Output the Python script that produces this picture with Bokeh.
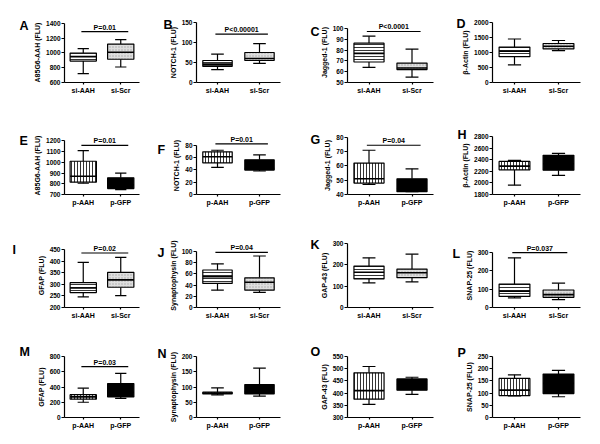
import numpy as np
from bokeh.plotting import figure
from bokeh.layouts import gridplot
from bokeh.models import FactorRange, Range1d, FixedTicker, Label
from bokeh.core.properties import value
from bokeh.embed import file_html
from bokeh.resources import INLINE

# ---------------- data ----------------
si_groups = ["si-AAH", "si-Scr"]
p_groups = ["p-AAH", "p-GFP"]

panel_letters = list("ABCDEFGHIJKLMNOP")
y_titles = ["A85G6-AAH (FLU)", "NOTCH-1 (FLU)", "Jagged-1 (FLU)", "\u03b2-Actin (FLU)",
            "A85G6-AAH (FLU)", "NOTCH-1 (FLU)", "Jagged-1 (FLU)", "\u03b2-Actin (FLU)",
            "GFAP (FLU)", "Synaptophysin (FLU)", "GAP-43 (FLU)", "SNAP-25 (FLU)",
            "GFAP (FLU)", "Synaptophysin (FLU)", "GAP-43 (FLU)", "SNAP-25 (FLU)"]

# box stats per group: [whisker low, Q1, median, Q3, whisker high]
A_box = [[720, 890, 950, 1000, 1060], [810, 915, 1010, 1120, 1180]]
B_box = [[32, 40, 46, 55, 71], [48, 55, 60, 75, 97]]
C_box = [[64, 69, 77, 86.5, 93], [55, 62, 63.5, 68, 81]]
D_box = [[590, 860, 1040, 1180, 1450], [1060, 1120, 1210, 1300, 1400]]
E_box = [[805, 815, 870, 1010, 1110], [745, 755, 790, 856, 900]]
F_box = [[44, 51, 61, 69, 71.5], [38, 39.5, 42, 56, 64]]
G_box = [[47, 48, 51, 62, 71], [42, 42, 44, 51, 58]]
H_box = [[1960, 2225, 2290, 2370, 2390], [2130, 2220, 2330, 2475, 2510]]
I_box = [[246, 265, 285, 308, 396], [252, 288, 320, 353, 418]]
J_box = [[31, 43, 55, 67, 78], [27, 31, 45, 53, 92]]
K_box = [[115, 134, 165, 194, 233], [120, 140, 163, 180, 250]]
L_box = [[52, 60, 88, 127, 270], [43, 55, 70, 95, 132]]
M_box = [[200, 240, 270, 300, 385], [250, 270, 330, 445, 580]]
N_box = [[74, 77, 80, 83, 97], [70, 77, 85, 108, 162]]
O_box = [[354, 375, 410, 483, 509], [395, 412, 435, 458, 465]]
P_box = [[89, 90, 112, 160, 175], [85, 98, 140, 178, 193]]

A_ticks = [600, 800, 1000, 1200, 1400]
B_ticks = [0, 50, 100, 150]
C_ticks = [50, 60, 70, 80, 90, 100]
D_ticks = [0, 500, 1000, 1500, 2000]
E_ticks = [700, 800, 900, 1000, 1100, 1200]
F_ticks = [0, 20, 40, 60, 80]
G_ticks = [40, 50, 60, 70, 80]
H_ticks = [1800, 2000, 2200, 2400, 2600, 2800]
I_ticks = [200, 250, 300, 350, 400, 450]
J_ticks = [0, 20, 40, 60, 80, 100]
K_ticks = [0, 100, 200, 300]
L_ticks = [0, 100, 200, 300]
M_ticks = [0, 200, 400, 600, 800]
N_ticks = [0, 50, 100, 150, 200]
O_ticks = [300, 350, 400, 450, 500, 550]
P_ticks = [0, 50, 100, 150, 200, 250]

p_text = ["P=0.01", "P<0.00001", "P<0.0001", None,
          "P=0.01", "P=0.01", "P=0.04", None,
          "P=0.02", "P=0.04", None, "P=0.037",
          "P=0.03", None, None, None]
p_line_y = [1290, 121, 97.3, None,
            1159, 81.7, 74.5, None,
            437, 98.4, None, 298,
            666, None, None, None]

boxes = [A_box, B_box, C_box, D_box, E_box, F_box, G_box, H_box,
         I_box, J_box, K_box, L_box, M_box, N_box, O_box, P_box]
ticks_all = [A_ticks, B_ticks, C_ticks, D_ticks, E_ticks, F_ticks, G_ticks, H_ticks,
             I_ticks, J_ticks, K_ticks, L_ticks, M_ticks, N_ticks, O_ticks, P_ticks]
groups_all = [si_groups] * 4 + [p_groups] * 4 + [si_groups] * 4 + [p_groups] * 4

# ---------------- layout (pixels) ----------------
col_x0 = [0, 146, 298, 448]
col_w = [146, 152, 150, 148]
row_y0 = [0, 111, 222, 333]
row_h = [111, 111, 111, 107]
frame_left = [57, 190, 347, 488, 57, 196, 347, 487, 64, 196, 347, 492, 57, 196, 347, 487]
frame_right = [139, 280, 433, 582, 139, 282, 433, 580, 139, 282, 439, 582, 139, 282, 433, 581]
tick_top_px = [21, 21, 21, 22, 135, 132, 132, 136, 245, 244, 243, 244, 356, 354, 356, 355]
axis_bot_px = [83, 82, 83, 82, 196, 196, 194, 195, 307, 307, 307, 307, 417, 418, 418, 418]
letter_x = [12, 157, 310, 452]
letter_y = [23.5, 134, 244, 351]
TEXT_ROOM = 10  # px needed above a P-value line for its text

FONT = "Liberation Sans"
LW = 1.2

styles = {
    "si-AAH": dict(fill_color="white", hatch_pattern="horizontal_line", hatch_color="black",
                   hatch_scale=3, hatch_weight=0.8),
    "si-Scr": dict(fill_color="#dedede", hatch_pattern="dot", hatch_color="#a8a8a8",
                   hatch_scale=3, hatch_weight=1),
    "p-AAH": dict(fill_color="white", hatch_pattern="vertical_line", hatch_color="black",
                  hatch_scale=3, hatch_weight=0.8),
    "p-GFP": dict(fill_color="black"),
}

BOX_W = 0.7
CAP_W = 0.3

figs = []
for k in range(16):
    r, c = divmod(k, 4)
    ticks = ticks_all[k]
    groups = groups_all[k]
    ymin, ytop = ticks[0], ticks[-1]
    bot = axis_bot_px[k]
    ppu = (bot - tick_top_px[k]) / (ytop - ymin)
    ftop = tick_top_px[k]
    if p_line_y[k] is not None:
        line_px = bot - (p_line_y[k] - ymin) * ppu
        ftop = min(ftop, line_px - TEXT_ROOM)
    border_top = int(round(ftop - row_y0[r]))
    ftop = row_y0[r] + border_top
    yend = ymin + (bot - ftop) / ppu

    p = figure(width=col_w[c], height=row_h[r],
               x_range=FactorRange(factors=groups, range_padding=0),
               y_range=Range1d(ymin, yend),
               output_backend="svg", toolbar_location=None, title=None,
               min_border_left=int(round(frame_left[k] - col_x0[c])),
               min_border_right=int(round(col_x0[c] + col_w[c] - frame_right[k])),
               min_border_top=border_top,
               min_border_bottom=int(round(row_y0[r] + row_h[r] - bot)))
    p.outline_line_color = None
    p.xgrid.visible = False
    p.ygrid.visible = False
    p.background_fill_color = "white"
    p.border_fill_color = "white"

    centers = np.arange(len(groups)) + 0.5
    for gi, g in enumerate(groups):
        lo, q1, med, q3, hi = boxes[k][gi]
        cx = centers[gi]
        p.segment(x0=[cx, cx], y0=[q3, q1], x1=[cx, cx], y1=[hi, lo],
                  line_color="black", line_width=LW)
        p.segment(x0=[cx - CAP_W / 2] * 2, y0=[hi, lo], x1=[cx + CAP_W / 2] * 2, y1=[hi, lo],
                  line_color="black", line_width=LW)
        p.vbar(x=[cx], bottom=[q1], top=[q3], width=BOX_W,
               line_color="black", line_width=LW, **styles[g])
        p.segment(x0=[cx - BOX_W / 2], y0=[med], x1=[cx + BOX_W / 2], y1=[med],
                  line_color="black", line_width=1.6)

    if p_text[k] is not None:
        x0 = centers[0] - 0.05
        x1 = centers[1] + 0.2
        p.segment(x0=[x0], y0=[p_line_y[k]], x1=[x1], y1=[p_line_y[k]],
                  line_color="black", line_width=LW)
        p.text(x=[(x0 + x1) / 2], y=[p_line_y[k]], text=[p_text[k]], y_offset=-1,
               text_align="center", text_baseline="bottom",
               text_font=value(FONT), text_font_style="bold", text_font_size="7px",
               text_color="black")

    # panel letter, placed in the top side panel so it is not clipped to the frame
    p.add_layout(Label(x=letter_x[c] - frame_left[k], y=ftop - letter_y[r],
                       x_units="screen", y_units="screen", text=panel_letters[k],
                       text_align="left", text_baseline="middle",
                       text_font=FONT, text_font_style="bold", text_font_size="12.5px",
                       text_color="black"), "above")

    ya = p.yaxis[0]
    ya.ticker = FixedTicker(ticks=ticks)
    ya.bounds = (ymin, ytop)
    ya.axis_label = y_titles[k]
    ya.axis_label_text_font = FONT
    ya.axis_label_text_font_style = "bold"
    ya.axis_label_text_font_size = "7px"
    ya.axis_label_text_color = "black"
    ya.axis_label_standoff = 2
    ya.major_label_text_font = FONT
    ya.major_label_text_font_style = "bold"
    ya.major_label_text_font_size = "6.5px"
    ya.major_label_text_color = "black"
    ya.major_label_standoff = 1
    ya.major_tick_out = 3
    ya.major_tick_in = 0
    ya.minor_tick_out = 0
    ya.minor_tick_in = 0
    ya.axis_line_color = "black"
    ya.axis_line_width = LW
    ya.major_tick_line_color = "black"
    ya.major_tick_line_width = LW

    xa = p.xaxis[0]
    xa.major_label_text_font = FONT
    xa.major_label_text_font_style = "bold"
    xa.major_label_text_font_size = "7px"
    xa.major_label_text_color = "black"
    xa.major_label_standoff = 2
    xa.major_tick_out = 2
    xa.major_tick_in = 0
    xa.axis_line_color = "black"
    xa.axis_line_width = LW
    xa.major_tick_line_color = "black"
    xa.major_tick_line_width = LW

    figs.append(p)

grid = gridplot([figs[i:i + 4] for i in range(0, 16, 4)], toolbar_location=None)

open("out.html", "w").write(file_html(grid, INLINE))
